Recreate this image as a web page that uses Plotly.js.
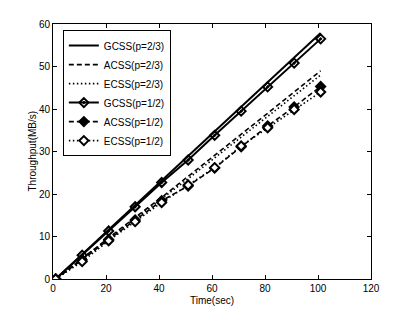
<!DOCTYPE html>
<html><head><meta charset="utf-8">
<script src="https://cdn.plot.ly/plotly-3.0.1.min.js"></script>
<style>html,body{margin:0;padding:0;background:#fff}#c{width:409px;height:315px}</style>
</head><body><div id="c"></div>
<script>
var time = [1, 11, 21, 31, 41, 51, 61, 71, 81, 91, 101];
var gcss23 = [0, 5.8, 11.6, 17.3, 23.1, 28.8, 34.6, 40.4, 46.2, 52.0, 57.9];
var acss23 = [0, 4.9, 9.7, 14.5, 19.2, 24.1, 29.1, 34.0, 39.0, 44.0, 49.0];
var ecss23 = [0, 4.7, 9.4, 14.2, 18.8, 23.6, 28.5, 33.4, 38.3, 43.1, 48.0];
var gcss12 = [0, 5.6, 11.3, 17.0, 22.7, 28.0, 33.8, 39.5, 45.2, 50.8, 56.5];
var acss12 = [0, 4.5, 9.3, 13.9, 18.4, 21.9, 26.1, 31.1, 36.0, 40.5, 45.3];
var ecss12 = [0, 4.1, 9.0, 13.5, 18.0, 22.1, 26.2, 31.3, 35.6, 39.9, 44.0];
var names = ['GCSS(p=2/3)', 'ACSS(p=2/3)', 'ECSS(p=2/3)', 'GCSS(p=1/2)', 'ACSS(p=1/2)', 'ECSS(p=1/2)'];
var xTitle = 'Time(sec)', yTitle = 'Throughput(MB/s)';

var DASH = '5px,3px', DOT = '1.5px,2.5px';
function tr(y, name, dash, sym, fill) {
  var t = {x: time, y: y, name: name, type: 'scatter',
    line: {color: '#000', width: dash === 'solid' ? 2 : 1.6, dash: dash}};
  if (sym) {
    t.mode = 'lines+markers';
    t.marker = {symbol: sym, size: 7, color: fill, line: {color: '#000', width: 2}};
  } else t.mode = 'lines';
  return t;
}
var data = [
  tr(gcss23, names[0], 'solid'),
  tr(acss23, names[1], DASH),
  tr(ecss23, names[2], DOT),
  tr(gcss12, names[3], 'solid', 'diamond-open-dot', '#000'),
  tr(acss12, names[4], DASH, 'diamond', '#000'),
  tr(ecss12, names[5], DOT, 'diamond', '#fff')
];
var ax = {showgrid: false, zeroline: false, showline: true, linecolor: '#000', linewidth: 1,
  mirror: 'ticks', ticks: 'inside', ticklen: 4, tickcolor: '#000',
  tickfont: {family: 'Liberation Sans, Arial', size: 10, color: '#000'}};
var layout = {
  width: 409, height: 315, margin: {l: 53, r: 38, t: 24, b: 36},
  paper_bgcolor: '#fff', plot_bgcolor: '#fff', showlegend: true,
  font: {family: 'Liberation Sans, Arial', size: 10, color: '#000'},
  xaxis: Object.assign({}, ax, {range: [0, 120], dtick: 20, tick0: 0,
    title: {text: xTitle, standoff: 3, font: {size: 10}}}),
  yaxis: Object.assign({}, ax, {range: [0, 60], dtick: 10, tick0: 0}),
  annotations: [{text: yTitle, textangle: -90, xref: 'paper', yref: 'paper',
    x: -0.066, y: 0.5, xanchor: 'center', yanchor: 'middle', showarrow: false,
    font: {size: 10, color: '#000'}}],
  legend: {x: 0.031, y: 0.976, xanchor: 'left', yanchor: 'top', bgcolor: '#fff',
    bordercolor: '#000', borderwidth: 1, font: {size: 10}, tracegroupgap: 0, itemwidth: 30}
};
Plotly.newPlot('c', data, layout, {displayModeBar: false, staticPlot: true});
</script></body></html>
